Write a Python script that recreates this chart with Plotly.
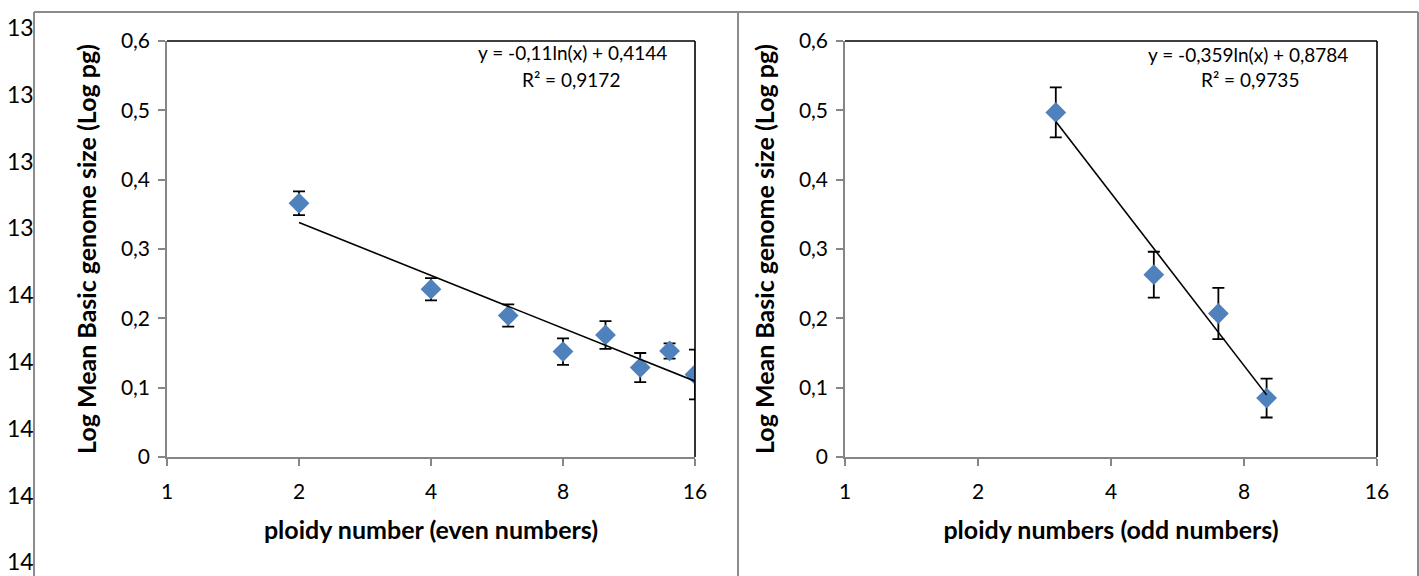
import numpy as np
import plotly.graph_objects as go

W, H = 1419, 576

# ---------------- data ----------------
# Left chart: even ploidy numbers
even_ploidy = [2, 4, 6, 8, 10, 12, 14, 16]
even_log_size = [0.366, 0.242, 0.204, 0.152, 0.176, 0.129, 0.153, 0.119]
even_err = [0.017, 0.016, 0.016, 0.019, 0.020, 0.021, 0.011, 0.036]
even_fit_slope = -0.11
even_fit_intercept = 0.4144
even_eq = "y = -0,11ln(x) + 0,4144"
even_r2 = "R² = 0,9172"

# Right chart: odd ploidy numbers
odd_ploidy = [3, 5, 7, 9]
odd_log_size = [0.497, 0.263, 0.207, 0.085]
odd_err = [0.036, 0.033, 0.037, 0.028]
odd_fit_slope = -0.359
odd_fit_intercept = 0.8784
odd_eq = "y = -0,359ln(x) + 0,8784"
odd_r2 = "R² = 0,9735"

x_ticks = [1, 2, 4, 8, 16]
x_tick_labels = ["1", "2", "4", "8", "16"]
y_ticks = [0, 0.1, 0.2, 0.3, 0.4, 0.5, 0.6]
y_tick_labels = ["0", "0,1", "0,2", "0,3", "0,4", "0,5", "0,6"]

y_title = "Log Mean Basic genome size (Log pg)"
x_title_even = "ploidy number (even numbers)"
x_title_odd = "ploidy numbers (odd numbers)"

# document line numbers peeking out at the left margin
line_numbers = ["13", "13", "13", "13", "14", "14", "14", "14", "14"]

# ---------------- style ----------------
FONT = "Lato"
BLUE = "#4F81BD"
AXIS_GREY = "#868686"
FRAME_GREY = "#8C8C8C"


def px_x(p):
    return p / W


def px_y(p):
    return 1 - p / H


fig = go.Figure()


def add_panel(xs, ys, errs, slope, intercept, xa, ya):
    fig.add_trace(go.Scatter(
        x=xs, y=ys, mode="markers", xaxis=xa, yaxis=ya,
        marker=dict(symbol="diamond", size=16, color=BLUE),
        error_y=dict(type="data", array=errs, visible=True,
                     color="black", thickness=1.8, width=6),
        showlegend=False, hoverinfo="x+y",
    ))
    xf = np.geomspace(min(xs), max(xs), 30)
    yf = slope * np.log(xf) + intercept
    fig.add_trace(go.Scatter(
        x=xf, y=yf, mode="lines", xaxis=xa, yaxis=ya,
        line=dict(color="black", width=1.6),
        showlegend=False, hoverinfo="skip",
    ))


add_panel(even_ploidy, even_log_size, even_err,
          even_fit_slope, even_fit_intercept, "x", "y")
add_panel(odd_ploidy, odd_log_size, odd_err,
          odd_fit_slope, odd_fit_intercept, "x2", "y2")

y_dom = [px_y(457), px_y(41)]


def xaxis_cfg(dom, title):
    return dict(
        domain=dom, type="log", range=[0, np.log10(16)],
        tickvals=x_ticks, ticktext=x_tick_labels,
        showline=True, linecolor=AXIS_GREY, linewidth=1.5,
        ticks="outside", ticklen=7, tickcolor=AXIS_GREY, tickwidth=1.5,
        showgrid=False, zeroline=False, automargin=False,
        tickfont=dict(family=FONT, size=21, color="black"),
        ticklabelstandoff=8,
        title=dict(text="<b>" + title + "</b>", standoff=20,
                   font=dict(family=FONT, size=25, color="black")),
    )


def yaxis_cfg(anchor):
    return dict(
        domain=y_dom, range=[0, 0.6], anchor=anchor,
        tickvals=y_ticks, ticktext=y_tick_labels,
        showline=True, linecolor=AXIS_GREY, linewidth=1.5,
        ticks="outside", ticklen=7, tickcolor=AXIS_GREY, tickwidth=1.5,
        showgrid=False, zeroline=False, automargin=False,
        tickfont=dict(family=FONT, size=21, color="black"),
        ticklabelstandoff=4,
        title=dict(text="<b>" + y_title + "</b>", standoff=17,
                   font=dict(family=FONT, size=25, color="black")),
    )


fig.update_layout(
    width=W, height=H, autosize=False,
    margin=dict(l=0, r=0, t=0, b=0, pad=0, autoexpand=False),
    paper_bgcolor="white", plot_bgcolor="white",
    xaxis=dict(xaxis_cfg([px_x(167), px_x(695)], x_title_even), anchor="y"),
    yaxis=yaxis_cfg("x"),
    xaxis2=dict(xaxis_cfg([px_x(845), px_x(1377)], x_title_odd), anchor="y2"),
    yaxis2=yaxis_cfg("x2"),
)

shapes = []
# black top and right borders of each plot area
for xr, yr in (("x domain", "y domain"), ("x2 domain", "y2 domain")):
    shapes.append(dict(type="line", xref=xr, yref=yr, x0=0, x1=1, y0=1, y1=1,
                       line=dict(color="black", width=1.6), layer="above"))
    shapes.append(dict(type="line", xref=xr, yref=yr, x0=1, x1=1, y0=0, y1=1,
                       line=dict(color="black", width=1.6), layer="above"))
# outer chart frames
frame = dict(color=FRAME_GREY, width=2)
shapes += [
    dict(type="line", xref="paper", yref="paper", x0=px_x(34), x1=px_x(34),
         y0=px_y(12), y1=0, line=frame),
    dict(type="line", xref="paper", yref="paper", x0=px_x(738), x1=px_x(738),
         y0=px_y(12), y1=0, line=frame),
    dict(type="line", xref="paper", yref="paper", x0=px_x(1418), x1=px_x(1418),
         y0=px_y(12), y1=0, line=frame),
    dict(type="line", xref="paper", yref="paper", x0=px_x(34), x1=px_x(1418),
         y0=px_y(12), y1=px_y(12), line=frame),
]
fig.update_layout(shapes=shapes)

annotations = []
eq_font = dict(family=FONT, size=19, color="black")
annotations.append(dict(text=even_eq, x=px_x(572), y=px_y(53), xref="paper", yref="paper",
                        showarrow=False, font=eq_font, xanchor="center", yanchor="middle"))
annotations.append(dict(text=even_r2, x=px_x(571), y=px_y(80), xref="paper", yref="paper",
                        showarrow=False, font=eq_font, xanchor="center", yanchor="middle"))
annotations.append(dict(text=odd_eq, x=px_x(1248), y=px_y(54), xref="paper", yref="paper",
                        showarrow=False, font=eq_font, xanchor="center", yanchor="middle"))
annotations.append(dict(text=odd_r2, x=px_x(1250), y=px_y(80), xref="paper", yref="paper",
                        showarrow=False, font=eq_font, xanchor="center", yanchor="middle"))

for i, t in enumerate(line_numbers):
    annotations.append(dict(text=t, x=px_x(36), y=px_y(27 + i * 66.8), xref="paper", yref="paper",
                            showarrow=False, xanchor="right", yanchor="middle",
                            font=dict(family=FONT, size=23, color="black")))
fig.update_layout(annotations=annotations)

post = (
    "document.documentElement.style.margin='0';"
    "document.body.style.margin='0';"
    "document.body.style.overflow='hidden';"
    "var gd=document.getElementById('{plot_id}');"
    "gd.style.position='fixed';gd.style.left='0px';gd.style.top='0px';"
)
fig.write_html("out.html", config={"displayModeBar": False}, post_script=post)
